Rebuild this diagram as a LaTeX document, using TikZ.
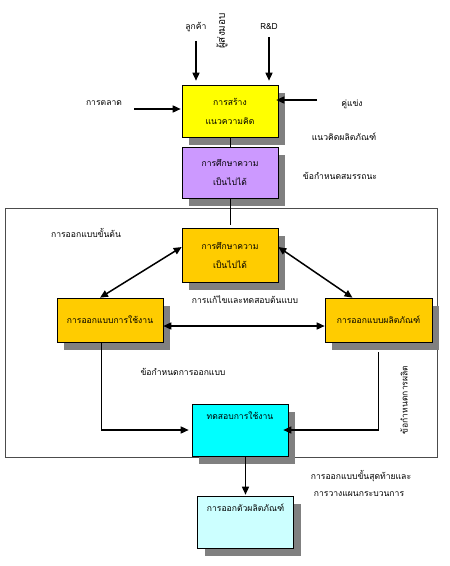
\documentclass[tikz,border=0pt]{standalone}
\usepackage{fontspec}
\setmainfont{Liberation Sans}
\newfontfamily\thaifont[Script=Thai]{Loma}
\usetikzlibrary{arrows.meta,shadows}
\definecolor{conceptyellow}{HTML}{FFFF00}
\definecolor{feaspurple}{HTML}{CC99FF}
\definecolor{designorange}{HTML}{FFCC00}
\definecolor{testcyan}{HTML}{00FFFF}
\definecolor{launchcyan}{HTML}{CCFFFF}
\definecolor{shadowgray}{HTML}{808080}
\begin{document}
\begin{tikzpicture}[x=1pt,y=-1pt,
  box/.style={draw=black,line width=.6pt,inner sep=0pt,align=center,
    minimum width=96pt,minimum height=52pt,font=\thaifont\fontsize{8.6}{19}\selectfont,
    drop shadow={shadow xshift=7pt,shadow yshift=-8pt,fill=shadowgray,opacity=1}},
  toptext/.style={text height=14pt,text depth=36pt},
  lbl/.style={font=\thaifont\fontsize{8.6}{10}\selectfont,inner sep=1pt},
  link/.style={line width=.6pt},
  arr/.style={line width=1.5pt,-{Triangle[length=8pt,width=7pt]}},
  dblarr/.style={line width=1.5pt,{Triangle[length=8pt,width=7pt]}-{Triangle[length=8pt,width=7pt]}}]
\useasboundingbox (0,0) rectangle (450,566);
% inputs
\node[lbl] (cust) at (196,27) {ลูกค้า};
\node[lbl] (rnd) at (269,27) {\fontsize{8.4}{10}\selectfont R\&D};
\node[lbl,rotate=90,font=\thaifont\fontsize{10}{10}\selectfont] (supp) at (222,31) {ผู้ส่งมอบ};
\node[lbl] (mkt) at (104,103) {การตลาด};
\node[lbl] (comp) at (352,104) {คู่แข่ง};
\node[lbl] (pconcept) at (344,137) {แนวคิดผลิตภัณฑ์};
\node[lbl] (perfspec) at (340,176) {ข้อกำหนดสมรรถนะ};
% concept and feasibility
\node[box,fill=conceptyellow] (concept) at (230,111) {การสร้าง\\แนวความคิด};
\node[box,fill=feaspurple,minimum height=51pt] (feas1) at (230,172.5) {การศึกษาความ\\เป็นไปได้};
\draw[link] (concept.south) -- (feas1.north);
\draw[arr,shorten <=8pt,shorten >=4pt] (cust) -- (cust |- concept.north);
\draw[arr,shorten <=6pt,shorten >=4pt] (rnd) -- (rnd |- concept.north);
\coordinate (mktend) at (134,109);\coordinate (compend) at (317,100);
\draw[arr,shorten >=1pt] (mktend) -- (mktend -| concept.west);
\draw[arr,shorten >=-2pt] (compend) -- (compend -| concept.east);
% preliminary design frame
\draw[link,draw=black!70] (5,208) rectangle (437,457);
\node[lbl] (prelim) at (86,233) {การออกแบบขั้นต้น};
\node[box,fill=designorange,minimum height=54pt] (feas2) at (230,255) {การศึกษาความ\\เป็นไปได้};
\node[box,fill=designorange,minimum width=106pt,minimum height=44pt] (func) at (110,320) {การออกแบบการใช้งาน};
\node[box,fill=designorange,minimum width=107pt,minimum height=44pt] (prod) at (378.5,320) {การออกแบบผลิตภัณฑ์};
\node[box,toptext,fill=testcyan] (test) at (240,430) {ทดสอบการใช้งาน};
\draw[link] (feas1.south) -- ([yshift=3pt]feas2.north);
\draw[dblarr] ([yshift=8pt]feas2.west) -- ([xshift=-10pt]func.north);
\draw[dblarr] ([yshift=8pt]feas2.east) -- ([xshift=-26pt]prod.north);
\draw[dblarr] ([yshift=-6pt]func.east) -- ([yshift=-6pt]prod.west);
\node[lbl] (revise) at (245,300) {การแก้ไขและทดสอบต้นแบบ};
\node[lbl] (designspec) at (183,372) {ข้อกำหนดการออกแบบ};
\node[lbl,rotate=90] (mfgspec) at (404,400) {ข้อกำหนดการผลิต};
\coordinate (lcorner) at ([xshift=-9pt]func.south |- test.west);
\coordinate (rcorner) at (prod.south |- test.west);
\draw[link] ([xshift=-9pt]func.south) -- (lcorner);
\draw[arr,shorten >=3pt] (lcorner) -- (test.west);
\draw[link] ([yshift=-10pt]prod.south) -- (rcorner);
\draw[arr,shorten >=-5pt] (rcorner) -- (test.east);
% launch
\node[box,toptext,fill=launchcyan] (launch) at (245.5,522) {การออกตัวผลิตภัณฑ์};
\draw[arr,shorten >=1pt] (launch.north |- test.south) -- (launch.north);
\node[lbl] (final1) at (361,476) {การออกแบบขั้นสุดท้ายและ};
\node[lbl] (final2) at (359,494) {การวางแผนกระบวนการ};
\end{tikzpicture}
\end{document}
